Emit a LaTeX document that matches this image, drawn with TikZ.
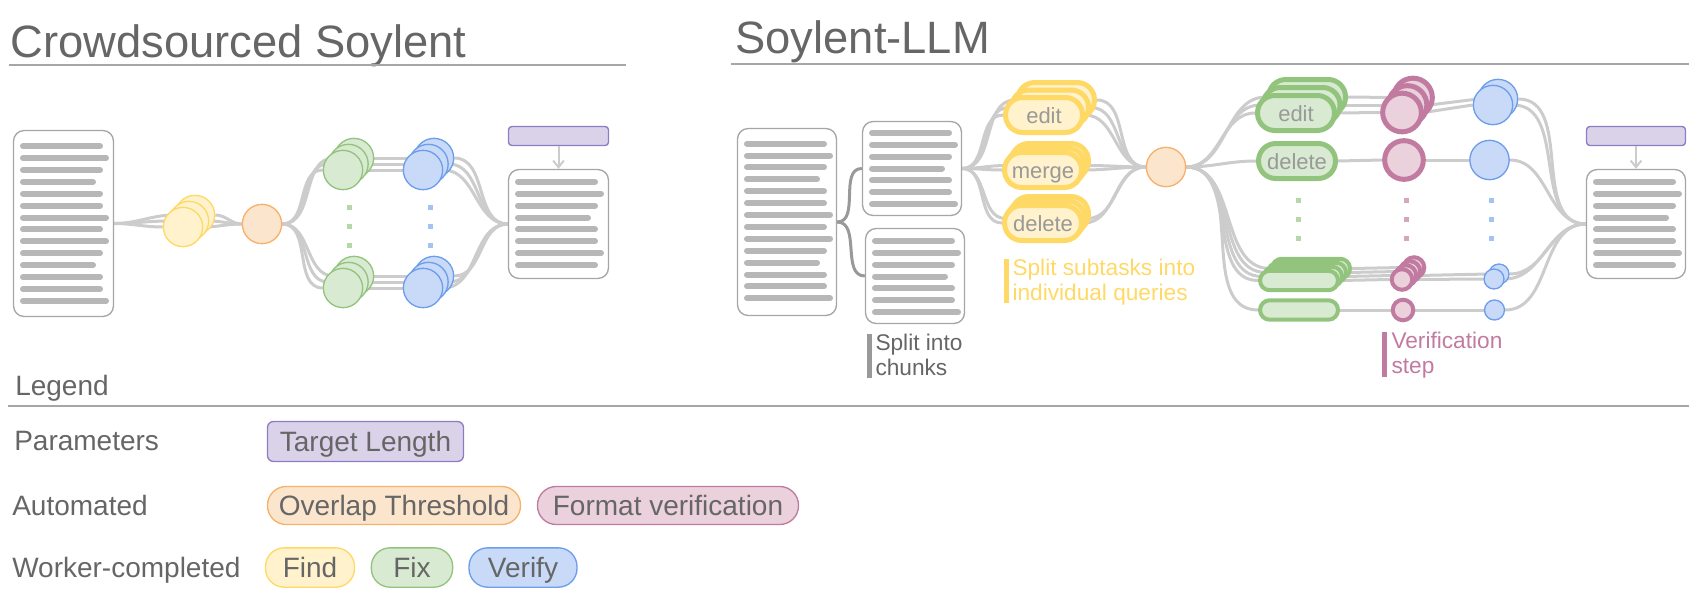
\documentclass[tikz,border=0pt]{standalone}
\usepackage{fontspec}
\setmainfont{Liberation Sans}
\usetikzlibrary{arrows.meta,backgrounds}

\definecolor{inkgray}{HTML}{666666}
\definecolor{softgray}{HTML}{999999}
\definecolor{wiregray}{HTML}{CCCCCC}
\definecolor{rulegray}{HTML}{A6A6A6}
\definecolor{boxgray}{HTML}{A6A6A6}
\definecolor{linegray}{HTML}{B7B7B7}
\definecolor{chunkgray}{HTML}{999999}
\definecolor{findfill}{HTML}{FFF2CC}
\definecolor{findline}{HTML}{FFD966}
\definecolor{fixfill}{HTML}{D9EAD3}
\definecolor{fixline}{HTML}{93C47D}
\definecolor{fixdot}{HTML}{B6D7A8}
\definecolor{verfill}{HTML}{C9DAF8}
\definecolor{verline}{HTML}{6D9EEB}
\definecolor{verdot}{HTML}{A4C2F4}
\definecolor{autofill}{HTML}{FCE5CD}
\definecolor{autoline}{HTML}{F6B26B}
\definecolor{fmtfill}{HTML}{EAD1DC}
\definecolor{fmtline}{HTML}{C27BA0}
\definecolor{fmtdot}{HTML}{D5A6BD}
\definecolor{parfill}{HTML}{D9D2E9}
\definecolor{parline}{HTML}{8E7CC3}

\tikzset{every picture/.style={line width=0.75pt}}
\tikzset{
  heading/.style={text=inkgray, inner sep=0pt, font=\fontsize{34}{40}\selectfont},
  headrule/.style={draw=rulegray, line width=1.5pt},
  legendtext/.style={text=inkgray, inner sep=0pt, font=\fontsize{21}{25}\selectfont},
  keybox/.style={draw, line width=1pt, inner sep=0pt, text=inkgray, text height=15pt, text depth=0pt,
    font=\fontsize{21}{25}\selectfont},
  notetext/.style={inner sep=0pt, align=left, font=\fontsize{17}{18.75}\selectfont},
  notebar/.style={line width=3.75pt},
  docbox/.style={draw=boxgray, line width=1pt, fill=white, rounded corners=8pt, inner sep=0pt},
  docline/.style={draw=linegray, line width=4.5pt, line cap=round},
  parbox/.style={draw=parline, fill=parfill, line width=1pt, rounded corners=2.5pt, inner sep=0pt},
  wire/.style={draw=wiregray, line width=2.25pt},
  chunkwire/.style={draw=chunkgray, line width=2.25pt},
  crowdc/.style={circle, line width=1pt, minimum size=29.5pt, inner sep=0pt},
  findc/.style={crowdc, draw=findline, fill=findfill},
  autoc/.style={crowdc, draw=autoline, fill=autofill},
  fixc/.style={crowdc, draw=fixline, fill=fixfill},
  verc/.style={crowdc, draw=verline, fill=verfill},
  versmall/.style={verc, minimum size=15pt},
  pill/.style={rectangle, rounded corners=13pt, line width=3.75pt, minimum width=57.75pt,
    minimum height=26.25pt, inner sep=0pt, text=softgray, text height=12pt, text depth=0pt,
    font=\fontsize{16.5}{20}\selectfont},
  ypill/.style={pill, draw=findline, fill=findfill},
  gpill/.style={pill, draw=fixline, fill=fixfill},
  gslim/.style={gpill, minimum height=14.6pt, minimum width=58.5pt, rounded corners=7.3pt, line width=3pt},
  fmtc/.style={circle, draw=fmtline, fill=fmtfill, line width=3.75pt, minimum size=29pt, inner sep=0pt},
  fmtsmall/.style={fmtc, line width=3pt, minimum size=15.4pt},
}

% lines of text inside a page: left edge, centre y, number of lines
\newcommand{\doctext}[3]{%
  \foreach \i in {1,...,#3}{
    \pgfmathsetmacro{\len}{{87,93,87,80,87,87,93}[mod(\i-1,7)]}
    \pgfmathsetmacro{\ly}{#2+(\i-(#3+1)/2)*11.9}
    \draw[docline] (#1+10,\ly) -- (#1+\len,\ly);
  }}

\begin{document}
\begin{tikzpicture}[x=0.75pt,y=0.75pt,yscale=-1]
		\useasboundingbox (0,0) rectangle (1699,607);
		
		% Titles
		\node[heading, anchor=base west] (crowdtitle) at (10,57) {Crowdsourced Soylent};
		\draw[headrule] (9,65) -- (626,65);
		\node[heading, anchor=base west] (llmtitle) at (735,53) {Soylent-LLM};
		\draw[headrule] (731,64) -- (1689,64);
		
		%%% Crowdsourced Soylent
		%Shape: Page
		\node[docbox, minimum width=75pt, minimum height=139.5pt] (cdoc) at (63.5,223.5) {};
		\doctext{13}{223.5}{14}
		%Shape: Circles (find)
		\foreach \i in {2,1,0}
		\node[findc] (find\i) at ({183+6*\i},{227-6*\i}) {};
		%Shape: Circle (overlap)
		\node[autoc] (cauto) at (262,224) {};
		%Shape: Circles (fix, verify)
		\foreach \i in {2,1,0} {
			\node[fixc] (cfixA\i) at ({343+5.5*\i},{170-6*\i}) {};
			\node[fixc] (cfixB\i) at ({343+5.5*\i},{288-6*\i}) {};
			\node[verc] (cverA\i) at ({423+5.5*\i},{170-6*\i}) {};
			\node[verc] (cverB\i) at ({423+5.5*\i},{288-6*\i}) {};
		}
		\foreach \y in {207,226,245} {
			\fill[fixdot] (346.5,{\y-2.5}) rectangle +(5,5);
			\fill[verdot] (427.5,{\y-2.5}) rectangle +(5,5);
		}
		%Shape: Target length + output page
		\node[parbox, minimum width=75pt, minimum height=14.25pt] (clen) at (558.5,136) {};
		\node[docbox, minimum width=75pt, minimum height=81.75pt] (cout) at (558.5,224) {};
		\doctext{508}{223.5}{8}
		\draw[wire, line width=1.5pt, -{Straight Barb[length=5pt,width=8pt]}] (clen) -- (cout);
		
		%%% Soylent-LLM
		%Shape: Pages
		\node[docbox, minimum width=74.25pt, minimum height=140.25pt] (ldoc) at (787,222) {};
		\doctext{737}{221}{14}
		\node[docbox, minimum width=74.25pt, minimum height=70.5pt] (chunkA) at (912,168.5) {};
		\doctext{862}{168.5}{7}
		\node[docbox, minimum width=74.25pt, minimum height=71.25pt] (chunkB) at (915,276) {};
		\doctext{865}{276.5}{7}
		%Shape: Pills (subtasks)
		\foreach \i/\t in {2/,1/,0/edit}
		\node[ypill] (editY\i) at ({1044+6*\i},{115-7.5*\i}) {\t};
		\foreach \i/\t in {2/,1/,0/merge}
		\node[ypill] (mergeY\i) at ({1043+3.5*\i},{170-4.5*\i}) {\t};
		\foreach \i/\t in {2/,1/,0/delete}
		\node[ypill] (deleteY\i) at ({1043+3.5*\i},{223-4.5*\i}) {\t};
		\node[autoc] (lauto) at (1166,167) {};
		%Shape: Pills (fix)
		\foreach \i/\t in {2/,1/,0/edit}
		\node[gpill] (editG\i) at ({1296+5.5*\i},{113-8*\i}) {\t};
		\node[gpill] (deleteG) at (1297,161) {delete};
		\foreach \i in {3,2,1,0}
		\node[gslim] (botG\i) at ({1299+4*\i},{280.5-4*\i}) {};
		\node[gslim] (lastG) at (1299,310) {};
		%Shape: Circles (format verification)
		\foreach \i in {2,1,0}
		\node[fmtc] (verA\i) at ({1402+5.5*\i},{112.5-7.5*\i}) {};
		\node[fmtc] (verB) at (1404,160) {};
		\foreach \i in {3,2,1,0}
		\node[fmtsmall] (verC\i) at ({1402+4*\i},{279.5-4*\i}) {};
		\node[fmtsmall] (verD) at (1403,310) {};
		%Shape: Circles (verify)
		\foreach \i in {1,0}
		\node[verc] (chkA\i) at ({1493+5*\i},{105-6*\i}) {};
		\node[verc] (chkB) at (1489.5,160) {};
		\foreach \i in {1,0}
		\node[versmall] (chkC\i) at ({1494+5*\i},{279-5*\i}) {};
		\node[versmall] (chkD) at (1494.5,310) {};
		\foreach \y in {200,219,238} {
			\fill[fixdot] (1295.5,{\y-2.5}) rectangle +(5,5);
			\fill[fmtdot] (1403.5,{\y-2.5}) rectangle +(5,5);
			\fill[verdot] (1488.5,{\y-2.5}) rectangle +(5,5);
		}
		%Shape: Target length + output page
		\node[parbox, minimum width=74.25pt, minimum height=14.25pt] (llen) at (1636,136) {};
		\node[docbox, minimum width=74.25pt, minimum height=81.75pt] (lout) at (1636,224) {};
		\doctext{1586}{223.5}{8}
		\draw[wire, line width=1.5pt, -{Straight Barb[length=5pt,width=8pt]}] (llen) -- (lout);
		
		% Notes
		\draw[notebar, draw=chunkgray] (869,334) -- (869,378);
		\node[notetext, text=inkgray, anchor=north west] (chunknote) at (875,334) {Split into\\chunks};
		\draw[notebar, draw=findline] (1006,259) -- (1006,303);
		\node[notetext, text=findline, anchor=north west] (splitnote) at (1012,259) {Split subtasks into\\individual queries};
		\draw[notebar, draw=fmtline] (1384,332) -- (1384,377);
		\node[notetext, text=fmtline, anchor=north west] (vernote) at (1391,332) {Verification\\step};
		
		%Straight Lines: connectors
		\begin{pgfonlayer}{background}
			\foreach \i in {0,1,2} {
				\draw[wire] (cdoc.east) to[out=0,in=180] (find\i.west);
				\draw[wire] (find\i.east) to[out=0,in=180] (cauto.west);
				\draw[wire] (cauto.east) to[out=0,in=180] (cfixA\i.west);
				\draw[wire] (cauto.east) to[out=0,in=180] (cfixB\i.west);
				\draw[wire] (cfixA\i.east) -- (cverA\i.west);
				\draw[wire] (cfixB\i.east) -- (cverB\i.west);
				\draw[wire] (cverA\i.east) to[out=0,in=180] (cout.west);
				\draw[wire] (cverB\i.east) to[out=0,in=180] (cout.west);
			}
			\draw[chunkwire] (ldoc.east) to[out=0,in=180] (chunkA.west);
			\draw[chunkwire] (ldoc.east) to[out=0,in=180] (chunkB.west);
			\foreach \n in {editY0,editY1,editY2,mergeY0,mergeY1,deleteY0,deleteY1} {
				\draw[wire] (chunkA.east) to[out=0,in=180] (\n.west);
				\draw[wire] (\n.east) to[out=0,in=180] (lauto.west);
			}
			\foreach \n in {editG0,editG1,editG2,deleteG,botG0,botG1,botG2,botG3,lastG}
			\draw[wire] (lauto.east) to[out=0,in=180] (\n.west);
			\foreach \a/\b in {editG0/verA0,editG1/verA1,editG2/verA2,deleteG/verB,botG0/verC0,botG1/verC1,botG2/verC2,botG3/verC3,lastG/verD,verA0/chkA0,verA1/chkA1,verB/chkB,verC0/chkC0,verC1/chkC1,verD/chkD}
			\draw[wire] (\a.east) -- (\b.west);
			\foreach \n in {chkA0,chkA1,chkB,chkC0,chkC1,chkD}
			\draw[wire] (\n.east) to[out=0,in=180] (lout.west);
		\end{pgfonlayer}
		
		%%% Legend
		% Text Node
		\node[legendtext, anchor=base west] (legend) at (15,395) {Legend};
		\draw[headrule] (8,406) -- (1689,406);
		% Text Node
		\node[legendtext, anchor=base west] (params) at (14,450) {Parameters};
		% Text Node
		\node[legendtext, anchor=base west] (automated) at (12,515) {Automated};
		% Text Node
		\node[legendtext, anchor=base west] (workers) at (12,577) {Worker-completed};
		\node[keybox, draw=parline, fill=parfill, rounded corners=4.5pt, minimum width=147pt, minimum height=30pt] (kpar) at (365.5,441.5) {Target Length};
		\node[keybox, draw=autoline, fill=autofill, rounded corners=14pt, minimum width=189.75pt, minimum height=28.5pt] (kauto) at (394,505.5) {Overlap Threshold};
		\node[keybox, draw=fmtline, fill=fmtfill, rounded corners=14pt, minimum width=195.75pt, minimum height=28.5pt] (kfmt) at (668,505.5) {Format verification};
		\node[keybox, draw=findline, fill=findfill, rounded corners=14pt, minimum width=66.75pt, minimum height=29.5pt] (kfind) at (310,567.5) {Find};
		\node[keybox, draw=fixline, fill=fixfill, rounded corners=14pt, minimum width=61pt, minimum height=29.5pt] (kfix) at (412,567.5) {Fix};
		\node[keybox, draw=verline, fill=verfill, rounded corners=14pt, minimum width=81pt, minimum height=29.5pt] (kver) at (523,567.5) {Verify};
\end{tikzpicture}
\end{document}
